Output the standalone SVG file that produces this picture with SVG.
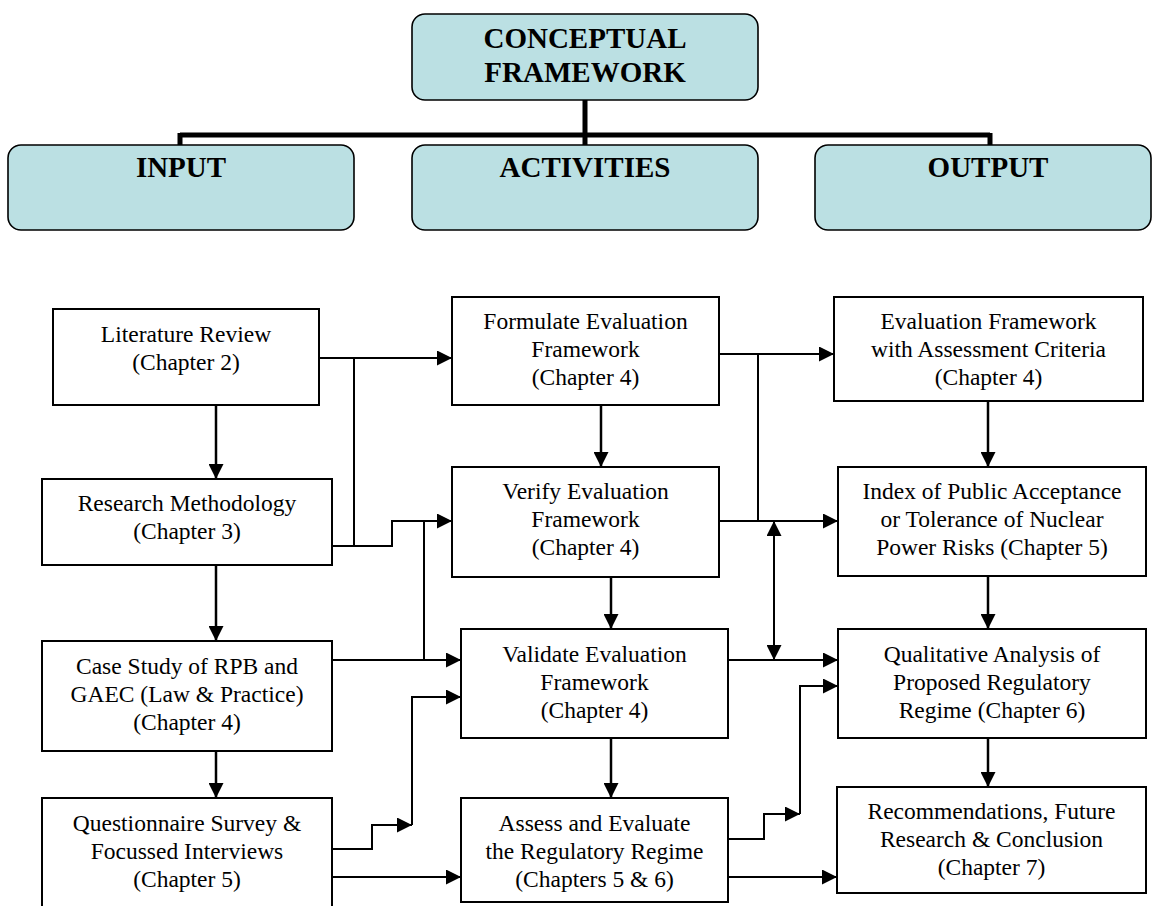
<svg xmlns="http://www.w3.org/2000/svg" width="1153" height="906" viewBox="0 0 1153 906">
<style>
.hdr{fill:#bbe0e3;stroke:#000;stroke-width:1.6}
.box{fill:#fff;stroke:#000;stroke-width:2}
.ht{font-family:"Liberation Serif","Times New Roman",serif;font-weight:bold;font-size:29px;text-anchor:middle;fill:#000}
.t{font-family:"Liberation Serif","Times New Roman",serif;font-size:23.5px;text-anchor:middle;fill:#000}
.ln{fill:none;stroke:#000;stroke-width:2}
.bar{fill:none;stroke:#000;stroke-width:5}
</style>
<defs>
<marker id="ah" markerUnits="userSpaceOnUse" markerWidth="15" markerHeight="15" refX="15" refY="7.5" orient="auto-start-reverse">
<path d="M0,0 L15,7.5 L0,15 z" fill="#000"/>
</marker>
</defs>
<g id="connectors">
<path class="bar" d="M585,100 V135 M180,135 H990 M180,133 V145 M990,133 V145 M585,133 V145"/>
<path class="ln" d="M319,358 H452" marker-end="url(#ah)"/>
<path class="ln" d="M354,358 V546"/>
<path class="ln" d="M332,546 H392 V521 H452" marker-end="url(#ah)"/>
<path class="ln" d="M424,521 V660"/>
<path class="ln" d="M332,660 H461" marker-end="url(#ah)"/>
<path class="ln" d="M332,849 H372 V825 H412" marker-end="url(#ah)"/>
<path class="ln" d="M412,825 V697 H461" marker-end="url(#ah)"/>
<path class="ln" d="M332,877 H461" marker-end="url(#ah)"/>
<path class="ln" d="M719,354 H834" marker-end="url(#ah)"/>
<path class="ln" d="M758,354 V521"/>
<path class="ln" d="M719,521 H838" marker-end="url(#ah)"/>
<path class="ln" d="M774,521 V660" marker-start="url(#ah)" marker-end="url(#ah)"/>
<path class="ln" d="M728,660 H838" marker-end="url(#ah)"/>
<path class="ln" d="M728,839 H764 V814 H800" marker-end="url(#ah)"/>
<path class="ln" d="M800,814 V686 H838" marker-end="url(#ah)"/>
<path class="ln" d="M728,877 H837" marker-end="url(#ah)"/>
<path class="ln" style="stroke-width:2.5" d="M216,405 V479" marker-end="url(#ah)"/>
<path class="ln" style="stroke-width:2.5" d="M216,565 V641" marker-end="url(#ah)"/>
<path class="ln" style="stroke-width:2.5" d="M216,751 V798" marker-end="url(#ah)"/>
<path class="ln" style="stroke-width:2.5" d="M601,405 V467" marker-end="url(#ah)"/>
<path class="ln" style="stroke-width:2.5" d="M611,577 V629" marker-end="url(#ah)"/>
<path class="ln" style="stroke-width:2.5" d="M611,738 V798" marker-end="url(#ah)"/>
<path class="ln" style="stroke-width:2.5" d="M988,401 V467" marker-end="url(#ah)"/>
<path class="ln" style="stroke-width:2.5" d="M988,576 V629" marker-end="url(#ah)"/>
<path class="ln" style="stroke-width:2.5" d="M988,738 V787" marker-end="url(#ah)"/>
</g>
<g id="conceptual">
<rect class="hdr" x="412" y="14" width="346" height="86" rx="13"/>
<text class="ht" x="585" y="48">CONCEPTUAL</text>
<text class="ht" x="585" y="82">FRAMEWORK</text>
</g>
<g id="input">
<rect class="hdr" x="8" y="145" width="346" height="85" rx="13"/>
<text class="ht" x="181" y="177">INPUT</text>
</g>
<g id="activities">
<rect class="hdr" x="412" y="145" width="346" height="85" rx="13"/>
<text class="ht" x="585" y="177">ACTIVITIES</text>
</g>
<g id="output">
<rect class="hdr" x="815" y="145" width="336" height="85" rx="13"/>
<text class="ht" x="988" y="177">OUTPUT</text>
</g>
<g id="literature">
<rect class="box" x="53" y="309" width="266" height="96"/>
<text class="t" x="186" y="342">Literature Review</text>
<text class="t" x="186" y="370">(Chapter 2)</text>
</g>
<g id="methodology">
<rect class="box" x="42" y="479" width="290" height="86"/>
<text class="t" x="187" y="511">Research Methodology</text>
<text class="t" x="187" y="539">(Chapter 3)</text>
</g>
<g id="casestudy">
<rect class="box" x="42" y="641" width="290" height="110"/>
<text class="t" x="187" y="674">Case Study of RPB and</text>
<text class="t" x="187" y="702">GAEC (Law &amp; Practice)</text>
<text class="t" x="187" y="730">(Chapter 4)</text>
</g>
<g id="questionnaire">
<rect class="box" x="42" y="798" width="290" height="112"/>
<text class="t" x="187" y="831">Questionnaire Survey &amp;</text>
<text class="t" x="187" y="859">Focussed Interviews</text>
<text class="t" x="187" y="887">(Chapter 5)</text>
</g>
<g id="formulate">
<rect class="box" x="452" y="297" width="267" height="108"/>
<text class="t" x="585.5" y="329">Formulate Evaluation</text>
<text class="t" x="585.5" y="357">Framework</text>
<text class="t" x="585.5" y="385">(Chapter 4)</text>
</g>
<g id="verify">
<rect class="box" x="452" y="467" width="267" height="110"/>
<text class="t" x="585.5" y="499">Verify Evaluation</text>
<text class="t" x="585.5" y="527">Framework</text>
<text class="t" x="585.5" y="555">(Chapter 4)</text>
</g>
<g id="validate">
<rect class="box" x="461" y="629" width="267" height="109"/>
<text class="t" x="594.5" y="662">Validate Evaluation</text>
<text class="t" x="594.5" y="690">Framework</text>
<text class="t" x="594.5" y="718">(Chapter 4)</text>
</g>
<g id="assess">
<rect class="box" x="461" y="798" width="267" height="104"/>
<text class="t" x="594.5" y="831">Assess and Evaluate</text>
<text class="t" x="594.5" y="859">the Regulatory Regime</text>
<text class="t" x="594.5" y="887">(Chapters 5 &amp; 6)</text>
</g>
<g id="evalframework">
<rect class="box" x="834" y="297" width="309" height="104"/>
<text class="t" x="988.5" y="329">Evaluation Framework</text>
<text class="t" x="988.5" y="357">with Assessment Criteria</text>
<text class="t" x="988.5" y="385">(Chapter 4)</text>
</g>
<g id="index">
<rect class="box" x="838" y="467" width="308" height="109"/>
<text class="t" x="992" y="499">Index of Public Acceptance</text>
<text class="t" x="992" y="527">or Tolerance of Nuclear</text>
<text class="t" x="992" y="555">Power Risks (Chapter 5)</text>
</g>
<g id="qualitative">
<rect class="box" x="838" y="629" width="308" height="109"/>
<text class="t" x="992" y="662">Qualitative Analysis of</text>
<text class="t" x="992" y="690">Proposed Regulatory</text>
<text class="t" x="992" y="718">Regime (Chapter 6)</text>
</g>
<g id="recommendations">
<rect class="box" x="837" y="787" width="309" height="106"/>
<text class="t" x="991.5" y="819">Recommendations, Future</text>
<text class="t" x="991.5" y="847">Research &amp; Conclusion</text>
<text class="t" x="991.5" y="875">(Chapter 7)</text>
</g>
</svg>
